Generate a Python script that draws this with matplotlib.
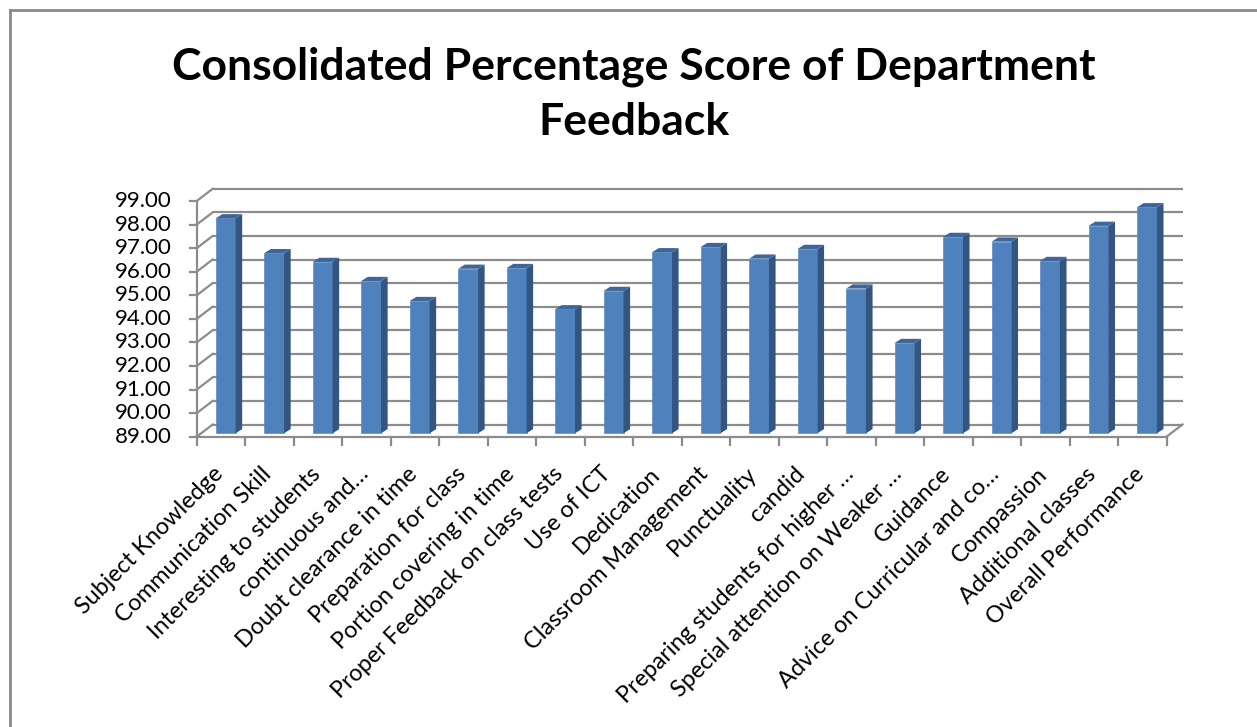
import matplotlib
matplotlib.use('Agg')
import matplotlib.pyplot as plt
from matplotlib.patches import Polygon
from matplotlib.lines import Line2D

plt.rcParams['font.family'] = ['Lato', 'DejaVu Sans']

categories = [
    "Subject Knowledge", "Communication Skill", "Interesting to students",
    "continuous and…", "Doubt clearance in time", "Preparation for class",
    "Portion covering in time", "Proper Feedback on class tests", "Use of ICT",
    "Dedication", "Classroom Management", "Punctuality", "candid",
    "Preparing students for higher …", "Special attention on Weaker …",
    "Guidance", "Advice on Curricular and co…", "Compassion",
    "Additional classes", "Overall Performance",
]
scores = [98.12, 96.64, 96.27, 95.46, 94.61, 95.98, 96.01, 94.26, 95.04, 96.68,
          96.90, 96.41, 96.82, 95.14, 92.83, 97.33, 97.13, 96.31, 97.80, 98.59]
y_ticks = [89, 90, 91, 92, 93, 94, 95, 96, 97, 98, 99]
title = "Consolidated Percentage Score of Department\nFeedback"

W, H = 1257, 727
fig = plt.figure(figsize=(W / 100, H / 100), dpi=100)
L, R, Y0, Y1 = 196.7, 1166.5, 436.7, 201.0
ax = fig.add_axes([L / W, 1 - Y0 / H, (R - L) / W, (Y0 - Y1) / H])
n = len(categories)
ymin, ymax = y_ticks[0], y_ticks[-1]
ax.set_xlim(0, n)
ax.set_ylim(ymin, ymax)
ax.axis('off')

px_x = n / (R - L)
px_y = (ymax - ymin) / (Y0 - Y1)

grid_color = '#8C8C8C'
glw = 1.6
bdx, bdy = 16 * px_x, 12.2 * px_y

for t in y_ticks:
    ax.plot([bdx, n + bdx], [t + bdy, t + bdy], color=grid_color, lw=glw,
            clip_on=False, solid_capstyle='butt', zorder=1)
    ax.plot([0, bdx], [t, t + bdy], color=grid_color, lw=glw, clip_on=False, zorder=1)
    ax.plot([-7 * px_x, 0], [t, t], color=grid_color, lw=glw, clip_on=False, zorder=1)
    ax.text(-25 * px_x, t, f"{t:.2f}", ha='right', va='center', fontsize=16, color='black')

ax.plot([0, 0], [ymin, ymax], color=grid_color, lw=glw, clip_on=False, zorder=1)
ax.plot([0, n], [ymin, ymin], color=grid_color, lw=glw, clip_on=False, zorder=1)
ax.plot([n, n + bdx], [ymin, ymin + bdy], color=grid_color, lw=glw, clip_on=False, zorder=1)
for i in range(n + 1):
    ax.plot([i, i], [ymin, ymin - 8 * px_y], color=grid_color, lw=glw, clip_on=False, zorder=1)

front_c, side_c, top_c = '#4F81BD', '#34557F', '#3D669B'
w = 0.41
fdx, fdy = 4.7 * px_x, 3.4 * px_y
sdx, sdy = 6.6 * px_x, 4.2 * px_y
for i, v in enumerate(scores):
    xc = i + 0.5 + fdx
    x0, x1 = xc - w / 2, xc + w / 2
    yb, yt = ymin + fdy, v + fdy
    ax.bar(xc, v - ymin, bottom=yb, width=w, color=front_c, zorder=3, clip_on=False,
           edgecolor='#5B8CC6', linewidth=0.5)
    ax.add_patch(Polygon([(x1, yb), (x1 + sdx, yb + sdy), (x1 + sdx, yt + sdy), (x1, yt)],
                         closed=True, facecolor=side_c, edgecolor='none', zorder=3, clip_on=False))
    ax.add_patch(Polygon([(x0, yt), (x1, yt), (x1 + sdx, yt + sdy), (x0 + sdx, yt + sdy)],
                         closed=True, facecolor=top_c, edgecolor='none', zorder=3, clip_on=False))

for i, lab in enumerate(categories):
    ax.text(i + 0.5 - 1 * px_x, ymin - 34 * px_y, lab, rotation=45, ha='right', va='center',
            rotation_mode='anchor', fontsize=16.8, color='black')

fig.text(634 / W, 1 - 94 / H, title, ha='center', va='center', fontsize=32,
         fontweight='bold', linespacing=1.45, color='black')

fig.add_artist(Line2D([10 / W, 10 / W], [0, 1 - 10 / H], transform=fig.transFigure,
                      color='#8A8A8A', lw=2))
fig.add_artist(Line2D([10 / W, 1], [1 - 10 / H, 1 - 10 / H], transform=fig.transFigure,
                      color='#8A8A8A', lw=2))

fig.savefig('out.png', dpi=100, facecolor='white')
